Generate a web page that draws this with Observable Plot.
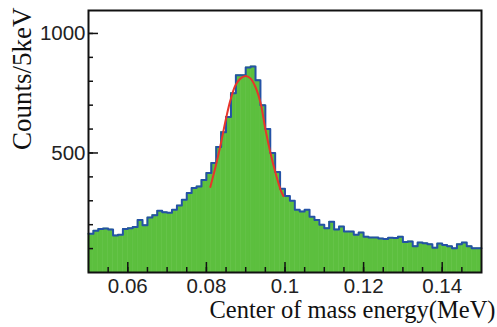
<!DOCTYPE html>
<html><head><meta charset="utf-8">
<script src="https://cdn.jsdelivr.net/npm/d3@7"></script>
<script src="https://cdn.jsdelivr.net/npm/@observablehq/plot@0.6"></script>
<style>body{margin:0;background:#fff}</style>
</head><body><div id="chart"></div>
<script>
const binStart = 0.05;
const binWidth = 0.00125;
const counts = [
  162,175,182,184,180,155,158,182,185,190,
  220,198,230,240,258,252,250,262,280,304,
  333,354,360,387,416,458,525,587,650,750,
  825,825,858,862,804,700,600,500,420,350,
  320,300,262,255,262,233,220,200,185,212,
  180,192,171,171,158,167,150,146,146,142,
  140,145,144,150,128,130,110,125,122,118,
  104,121,115,110,101,118,125,110,101,101
];
const fitX = [0.0810,0.0823,0.0836,0.0849,0.0861,0.0874,0.0887,0.0900,0.0912,0.0925,0.0938,0.0950,0.0963,0.0976,0.0989,0.0996];
const fitY = [358,440,533,637,720,783,812,822,812,775,708,600,500,416,345,320];
const xMajorTicks = [0.06,0.08,0.1,0.12,0.14];
const xMinorTicks = [0.055,0.06,0.065,0.07,0.075,0.08,0.085,0.09,0.095,0.1,0.105,0.11,0.115,0.12,0.125,0.13,0.135,0.14,0.145];
const yMajorTicks = [500,1000];
const yMinorTicks = [100,200,300,400,500,600,700,800,900,1000];
const xTitle = "Center of mass energy(MeV)";
const yTitle = "Counts/5keV";

const bins = counts.map((c, i) => ({x1: binStart + i*binWidth, x2: binStart + (i+1)*binWidth, y: c}));
const steps = bins.flatMap(b => [{x: b.x1, y: b.y}, {x: b.x2, y: b.y}]);
const fit = fitX.map((x, i) => ({x, y: fitY[i]}));

const green = "#5cbf3e", blue = "#2452a6", red = "#e8352b";
const tickFont = "Liberation Sans", tickSize = 20.5;

const chart = Plot.plot({
  width: 497, height: 327,
  marginLeft: 88, marginRight: 16, marginTop: 10, marginBottom: 55,
  style: {fontFamily: tickFont, background: "#fff", overflow: "visible"},
  x: {domain: [0.05, 0.15], label: null},
  y: {domain: [0, 1096], label: null},
  marks: [
    Plot.rectY(bins, {x1: "x1", x2: "x2", y: "y", fill: green, inset: 0, stroke: green, strokeWidth: 0.5}),
    Plot.line(steps, {x: "x", y: "y", stroke: blue, strokeWidth: 2}),
    Plot.line(fit, {x: "x", y: "y", stroke: red, strokeWidth: 2, curve: "catmull-rom"}),
    Plot.axisX({ticks: xMajorTicks, tickSize: 0, tickPadding: 6, tickFormat: d => d3.format("~g")(d), fontSize: tickSize, fill: "#222"}),
    Plot.axisX({ticks: xMajorTicks, tickSize: -10, tickFormat: () => "", strokeWidth: 1.5, stroke: "#111"}),
    Plot.axisX({ticks: xMinorTicks, tickSize: -5, tickFormat: () => "", strokeWidth: 1.5, stroke: "#111"}),
    Plot.axisY({ticks: yMajorTicks, tickSize: 0, tickPadding: 3, tickFormat: d3.format("d"), fontSize: tickSize, fill: "#222"}),
    Plot.axisY({ticks: yMajorTicks, tickSize: -10, tickFormat: () => "", strokeWidth: 1.5, stroke: "#111"}),
    Plot.axisY({ticks: yMinorTicks, tickSize: -5, tickFormat: () => "", strokeWidth: 1.5, stroke: "#111"}),
    Plot.frame({stroke: "#111", strokeWidth: 2}),
    Plot.text([xTitle], {text: d => d, frameAnchor: "bottom-right", textAnchor: "end", dx: 14, dy: 45.5, fontFamily: "Liberation Serif", fontSize: 24.5, fill: "#111"}),
    Plot.text([yTitle], {text: d => d, frameAnchor: "top-left", textAnchor: "end", rotate: -90, dx: -77, dy: -3, fontFamily: "Liberation Serif", fontSize: 27, fill: "#111"})
  ]
});
document.getElementById("chart").appendChild(chart);
</script>
</body></html>
